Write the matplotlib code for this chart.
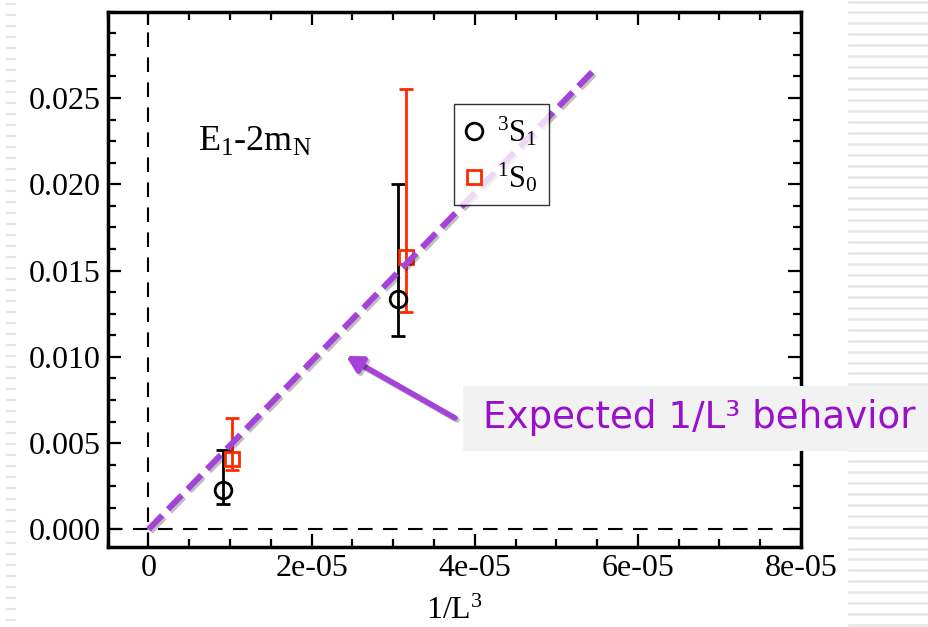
# E1 - 2mN against 1/L^3, with the expected 1/L^3 line
import numpy as np
import matplotlib
matplotlib.use('Agg')
import matplotlib.pyplot as plt
import matplotlib.patheffects as pe
from matplotlib.patches import Rectangle
from matplotlib.lines import Line2D
from matplotlib.ticker import MultipleLocator

plt.rcParams['font.family'] = ['Liberation Serif', 'DejaVu Serif']
plt.rcParams['mathtext.default'] = 'regular'

# 3S1 points (x, y, lower / upper error bar ends)
x_3s1 = [0.918e-5, 3.057e-5]
y_3s1 = [0.0023, 0.01335]
lo_3s1 = [0.00149, 0.0112]
hi_3s1 = [0.00458, 0.02002]

# 1S0 points
x_1s0 = [1.029e-5, 3.16e-5]
y_1s0 = [0.0041, 0.01579]
lo_1s0 = [0.00342, 0.0126]
hi_1s0 = [0.00644, 0.02554]

# expected 1/L^3 line
x_fit = [0.0, 5.5e-5]
y_fit = [0.0, 0.0268]

purple = '#a543d8'
red = '#ff2a00'

fig = plt.figure(figsize=(9.29, 6.27), dpi=100)

# slide decoration: grey stripes on the right, short dashes on the left
for yy in np.arange(1.5, 627, 10.94):
    fig.add_artist(Line2D([849/929, 929/929], [1 - yy/627]*2, color='#e6e6e6', lw=1.8, zorder=0))
for yy in np.arange(4, 627, 11.0):
    fig.add_artist(Line2D([7/929, 15/929], [1 - yy/627]*2, color='#e6e6e6', lw=1.5, zorder=0))

ax = fig.add_axes([107.7/929, 1 - 546.7/627, (801 - 107.7)/929, (546.7 - 11.7)/627])

ax.axhline(0, color='k', lw=1.5, dashes=(7, 5), zorder=1)
ax.axvline(0, color='k', lw=1.5, dashes=(7, 5), zorder=1)

ax.errorbar(x_3s1, y_3s1,
            yerr=[np.array(y_3s1) - np.array(lo_3s1), np.array(hi_3s1) - np.array(y_3s1)],
            fmt='o', ms=12, mfc='none', mec='k', mew=2, ecolor='k', elinewidth=2,
            capsize=5, capthick=2, zorder=3)
ax.errorbar(x_1s0, y_1s0,
            yerr=[np.array(y_1s0) - np.array(lo_1s0), np.array(hi_1s0) - np.array(y_1s0)],
            fmt='s', ms=10.5, mfc='none', mec=red, mew=2, ecolor=red, elinewidth=2,
            capsize=5, capthick=2, zorder=3)

shadow = [pe.SimpleLineShadow(offset=(1.5, -1.5), shadow_color='k', alpha=0.25), pe.Normal()]
ax.plot(x_fit, y_fit, color=purple, lw=4.3, dashes=(3.3, 1.4), zorder=4, path_effects=shadow)

ax.set_xlim(-5e-6, 8e-5)
ax.set_ylim(-0.001, 0.030)
ax.set_xticks([0, 2e-5, 4e-5, 6e-5, 8e-5])
ax.set_xticklabels(['0', '2e-05', '4e-05', '6e-05', '8e-05'])
ax.set_yticks([0.0, 0.005, 0.010, 0.015, 0.020, 0.025])
ax.set_yticklabels(['0.000', '0.005', '0.010', '0.015', '0.020', '0.025'])
ax.xaxis.set_minor_locator(MultipleLocator(0.5e-5))
ax.yaxis.set_minor_locator(MultipleLocator(0.00125))
ax.tick_params(which='both', direction='in', top=True, right=True, width=1.6, labelsize=23)
ax.tick_params(which='major', length=9.5, pad=5)
ax.tick_params(which='minor', length=5.5)
for s in ax.spines.values():
    s.set_linewidth(2.5)

ax.set_xlabel('1/L$^3$', fontsize=23, labelpad=10)

ax.text(0.13, 0.74, 'E$_1$-2m$_N$', transform=ax.transAxes, fontsize=26)

handles = [Line2D([], [], ls='none', marker='o', ms=12, mfc='none', mec='k', mew=2),
           Line2D([], [], ls='none', marker='s', ms=10.5, mfc='none', mec=red, mew=2)]
leg = ax.legend(handles, ['$^3$S$_1$', '$^1$S$_0$'], loc='upper left',
                bbox_to_anchor=(0.5, 0.8275), fontsize=22, frameon=True,
                fancybox=False, edgecolor='k', handlelength=0.6, handletextpad=0.45,
                borderpad=0.35, borderaxespad=0, labelspacing=0.4)
leg.get_frame().set_linewidth(1.0)

# callout box with arrow
fig.add_artist(Rectangle((462.7/929, 1 - 451/627), (929 - 462.7)/929, 65/627,
                         transform=fig.transFigure, facecolor='#f2f2f2', edgecolor='none', zorder=5))
fig.text(483/929, 1 - 418/627, 'Expected 1/L³ behavior', family='DejaVu Sans', fontsize=26.8,
         color='#9a0fcc', va='center', ha='left', zorder=6)
ax.annotate('', xy=(346, 627 - 356), xycoords='figure pixels',
            xytext=(455, 627 - 418), textcoords='figure pixels',
            arrowprops=dict(arrowstyle='-|>,head_length=0.9,head_width=0.5', color=purple, lw=4,
                            shrinkA=0, shrinkB=0, path_effects=shadow),
            zorder=6)

fig.savefig('out.png', dpi=100)
